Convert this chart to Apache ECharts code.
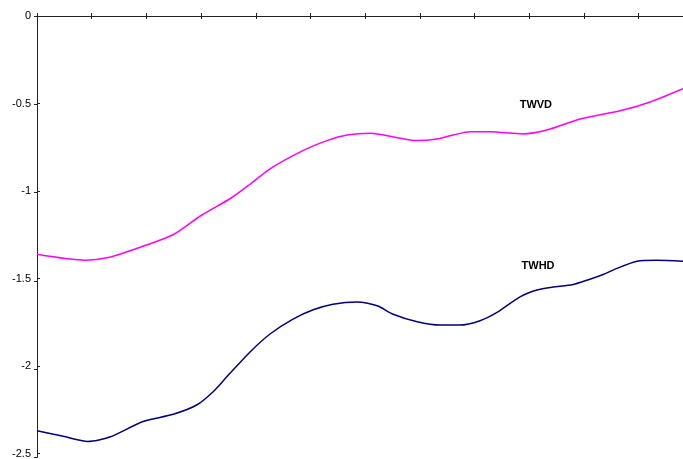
<!DOCTYPE html>
<html><head><meta charset="utf-8">
<script src="https://cdn.jsdelivr.net/npm/echarts@6/dist/echarts.min.js"></script>
<style>html,body{margin:0;padding:0;background:#fff}#c{width:683px;height:459px}</style>
</head><body><div id="c"></div>
<script>
var yTicks = [0, -0.5, -1, -1.5, -2, -2.5];
var twvdX = [0, 0.88, 1.28, 1.70, 2.49, 3.00, 3.55, 3.89, 4.26, 4.86, 5.30, 5.67, 6.09, 6.33, 6.95, 7.31, 7.61, 7.92, 8.28, 8.88, 9.32, 9.93, 10.66, 11.21, 11.81];
var twvdY = [-1.361, -1.395, -1.382, -1.341, -1.250, -1.140, -1.040, -0.963, -0.873, -0.769, -0.712, -0.680, -0.670, -0.680, -0.712, -0.703, -0.680, -0.661, -0.661, -0.674, -0.652, -0.589, -0.542, -0.491, -0.415];
var twhdX = [0, 0.48, 0.93, 1.33, 1.94, 2.49, 2.92, 3.22, 3.47, 3.89, 4.26, 4.68, 5.05, 5.41, 5.85, 6.22, 6.51, 6.95, 7.37, 7.73, 8.10, 8.41, 8.83, 9.14, 9.43, 9.80, 10.35, 10.53, 10.97, 11.33, 11.81];
var twhdY = [-2.370, -2.402, -2.431, -2.406, -2.317, -2.276, -2.223, -2.147, -2.062, -1.921, -1.817, -1.732, -1.679, -1.647, -1.634, -1.656, -1.704, -1.747, -1.766, -1.766, -1.741, -1.694, -1.605, -1.566, -1.549, -1.534, -1.477, -1.452, -1.401, -1.396, -1.401];
var labelTWVD = {name: 'TWVD', x: 9.12, y: -0.51};
var labelTWHD = {name: 'TWHD', x: 9.16, y: -1.428};

function zip(a, b) { return a.map(function (v, i) { return [v, b[i]]; }); }
var font = 'Arial, "Liberation Sans", sans-serif';
var axisCol = '#222';
var gridPos = {left: 37, top: 16, right: 0, bottom: 1.5};
function xAx(gi, inside, showLine) {
  return {type: 'value', gridIndex: gi, min: 0, max: 11.81, interval: 1, position: 'top',
    axisLine: {show: showLine, onZero: false, lineStyle: {color: axisCol, width: 1}},
    axisTick: {show: true, inside: inside, length: 3, lineStyle: {color: axisCol}},
    axisLabel: {show: false}, splitLine: {show: false}};
}
function yAx(gi, inside, showLabel) {
  return {type: 'value', gridIndex: gi, min: -2.5, max: 0, interval: 0.5,
    axisLine: {show: true, onZero: false, lineStyle: {color: axisCol, width: 1}},
    axisTick: {show: true, inside: inside, length: 3, lineStyle: {color: axisCol}},
    axisLabel: {show: showLabel, margin: 6, color: '#000', fontSize: 11, fontFamily: font,
      formatter: function (v) { return yTicks.indexOf(v) >= 0 ? String(v) : ''; }},
    splitLine: {show: false}};
}
var chart = echarts.init(document.getElementById('c'), null, {renderer: 'canvas'});
var lbl = function (o) {
  return {symbol: 'rect', symbolSize: 1, silent: true, itemStyle: {color: 'rgba(0,0,0,0)'},
    data: [{coord: [o.x, o.y], value: o.name}],
    label: {show: true, position: 'inside', formatter: o.name, color: '#000', fontSize: 11, fontWeight: 'bold', fontFamily: font}};
};
chart.setOption({
  animation: false,
  backgroundColor: '#fff',
  grid: [gridPos, gridPos],
  xAxis: [xAx(0, true, true), xAx(1, false, false)],
  yAxis: [yAx(0, true, true), yAx(1, false, false)],
  series: [
    {type: 'line', xAxisIndex: 0, yAxisIndex: 0, data: zip(twvdX, twvdY), smooth: 0.25, symbol: 'none',
      lineStyle: {color: '#FF00FF', width: 1.5}, markPoint: lbl(labelTWVD)},
    {type: 'line', xAxisIndex: 0, yAxisIndex: 0, data: zip(twhdX, twhdY), smooth: 0.25, symbol: 'none',
      lineStyle: {color: '#000080', width: 1.5}, markPoint: lbl(labelTWHD)}
  ]
});
</script></body></html>
